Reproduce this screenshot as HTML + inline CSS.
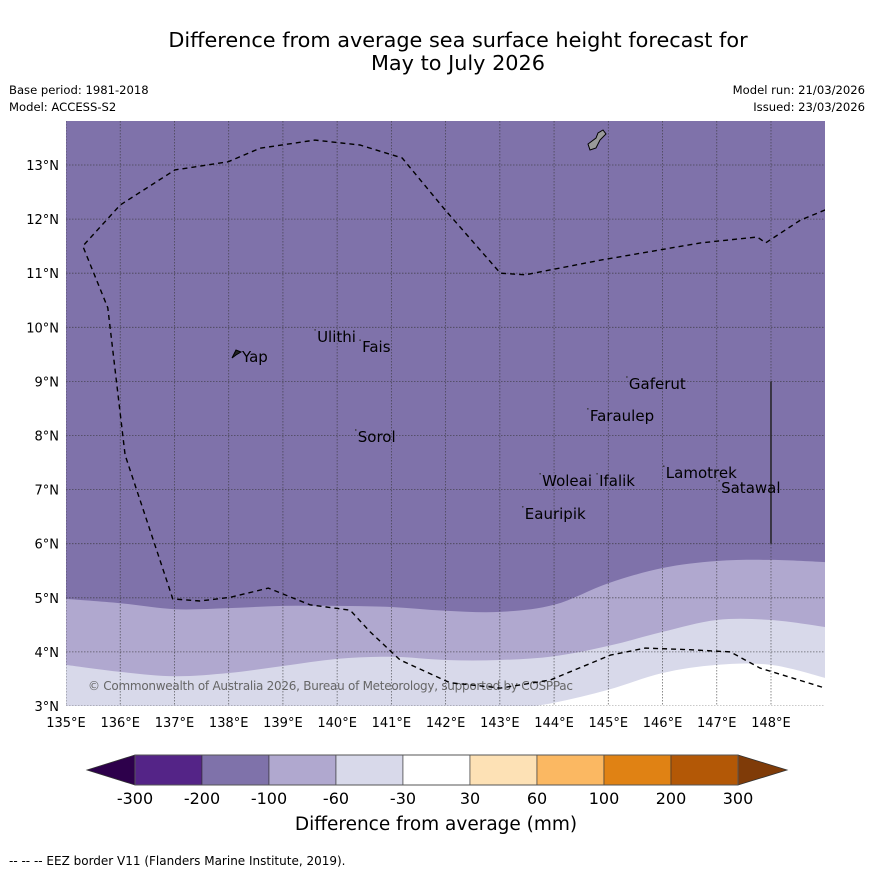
<!DOCTYPE html>
<html><head><meta charset="utf-8"><style>
body{margin:0;background:#fff;font-family:"DejaVu Sans","Liberation Sans",sans-serif;}
</style></head><body>
<svg id="s" width="873" height="873" xmlns="http://www.w3.org/2000/svg" font-family="DejaVu Sans, Liberation Sans, sans-serif">
<rect width="873" height="873" fill="#fff"/>
<text x="458" y="47" text-anchor="middle" font-size="20.8">Difference from average sea surface height forecast for</text>
<text x="458" y="70" text-anchor="middle" font-size="20.8">May to July 2026</text>
<text x="9" y="94" font-size="11.6">Base period: 1981-2018</text>
<text x="9" y="111" font-size="11.6">Model: ACCESS-S2</text>
<text x="865" y="94" font-size="11.6" text-anchor="end">Model run: 21/03/2026</text>
<text x="865" y="111" font-size="11.6" text-anchor="end">Issued: 23/03/2026</text>
<defs><clipPath id="mc"><rect x="66" y="121" width="759" height="585"/></clipPath></defs>
<g id="map" clip-path="url(#mc)"></g>
<g id="over"></g>
<text x="9" y="865" font-size="12">--  --  -- EEZ border V11 (Flanders Marine Institute, 2019).</text>
<text x="436" y="830" text-anchor="middle" font-size="18.5">Difference from average (mm)</text>
</svg>
<script>
const lonTicks=[135,136,137,138,139,140,141,142,143,144,145,146,147,148];
const latTicks=[3,4,5,6,7,8,9,10,11,12,13];
const bLons=[135,136,137,138,139,140,141,142,143,144,145,146,147,148,149];
const b200=[4.98,4.90,4.79,4.81,4.85,4.85,4.83,4.76,4.74,4.87,5.27,5.55,5.68,5.70,5.66];
const b100=[3.76,3.63,3.55,3.61,3.74,3.87,3.91,3.85,3.85,3.92,4.11,4.37,4.59,4.59,4.46];
const b60Lons=[143,144,145,146,147,148,149];
const b60=[2.9,3.06,3.30,3.61,3.76,3.76,3.52];
const eezLon=[149.00,148.54,147.90,147.75,146.70,144.85,143.47,143.01,141.99,141.20,140.42,139.59,138.58,137.99,137.01,136.00,135.31,135.77,136.09,136.97,137.47,138.03,138.73,139.50,140.24,140.61,141.16,142.08,143.01,143.93,145.04,145.68,146.51,147.25,147.80,149.00];
const eezLat=[12.17,11.98,11.56,11.67,11.56,11.24,10.97,11.00,12.17,13.13,13.37,13.46,13.31,13.06,12.91,12.26,11.50,10.36,7.64,4.98,4.94,5.01,5.18,4.87,4.77,4.37,3.85,3.43,3.33,3.48,3.94,4.07,4.04,4.00,3.70,3.33];
const islands=[["Ulithi",139.63,9.86],["Fais",140.46,9.67],["Sorol",140.38,8.01],["Gaferut",145.38,8.99],["Faraulep",144.66,8.40],["Woleai",143.78,7.20],["Ifalik",144.83,7.20],["Lamotrek",146.06,7.34],["Satawal",147.08,7.07],["Eauripik",143.46,6.59]];
const cbLabels=["-300","-200","-100","-60","-30","30","60","100","200","300"];
const cbColors=["#542487","#7f72aa","#b0a8cf","#d8d9ea","#ffffff","#fde1b5","#fbb862","#e08214","#b35806"];
const X=l=>66+(l-135)*54.23, Y=a=>706-(a-3)*54.1;
const NS="http://www.w3.org/2000/svg";
function mk(t,a,p){const e=document.createElementNS(NS,t);for(const k in a)e.setAttribute(k,a[k]);(p||document.getElementById('s')).appendChild(e);return e;}
const map=document.getElementById('map'),over=document.getElementById('over');
function line(lons,lats){let d="";lons.forEach((l,i)=>{d+=(i?"L":"")+X(l).toFixed(1)+","+Y(lats[i]).toFixed(1);});return d;}
function smooth(lons,lats){const p=lons.map((l,i)=>[X(l),Y(lats[i])]);let d=p[0][0].toFixed(1)+","+p[0][1].toFixed(1);
for(let i=0;i<p.length-1;i++){const p0=p[i-1]||p[i],p1=p[i],p2=p[i+1],p3=p[i+2]||p2;
const c1=[p1[0]+(p2[0]-p0[0])/6,p1[1]+(p2[1]-p0[1])/6],c2=[p2[0]-(p3[0]-p1[0])/6,p2[1]-(p3[1]-p1[1])/6];
d+="C"+c1.map(v=>v.toFixed(1))+" "+c2.map(v=>v.toFixed(1))+" "+p2.map(v=>v.toFixed(1));}return d;}
let r=mk('rect',{x:66,y:121,width:759,height:585,fill:'#7f72aa'},map);

let p1=mk('path',{d:"M"+smooth(bLons,b200)+"L830,710L60,710Z",fill:'#b0a8cf'},map);

let p2=mk('path',{d:"M"+smooth(bLons,b100)+"L830,710L60,710Z",fill:'#d8d9ea'},map);

let p3=mk('path',{d:"M"+smooth(b60Lons,b60)+"L830,710Z",fill:'#ffffff'},map);

lonTicks.forEach(l=>{let g=mk('line',{x1:X(l),x2:X(l),y1:121,y2:706,stroke:'#333','stroke-width':0.8,'stroke-dasharray':'1.5,1.5',opacity:0.7},map);

let t=mk('text',{x:X(l),y:727,'text-anchor':'middle','font-size':13});t.textContent=l+"°E";
});
latTicks.forEach(a=>{let g=mk('line',{x1:66,x2:825,y1:Y(a),y2:Y(a),stroke:'#333','stroke-width':0.8,'stroke-dasharray':'1.5,1.5',opacity:0.7},map);

let t=mk('text',{x:59,y:Y(a)+5,'text-anchor':'end','font-size':13});t.textContent=a+"°N";
});
let cp=mk('text',{x:88,y:690,'font-size':12,fill:'#666',textLength:485},map);cp.textContent="© Commonwealth of Australia 2026, Bureau of Meteorology, supported by COSPPac";

let ez=mk('path',{d:"M"+line(eezLon,eezLat),fill:'none',stroke:'#000','stroke-width':1.4,'stroke-dasharray':'5,4'},map);

let vl=mk('line',{x1:X(148),x2:X(148),y1:Y(9),y2:Y(6),stroke:'#222','stroke-width':1.5},map);

let gu=mk('path',{d:"M590,150L588,144L596,138L598,133L603,130L606,134L600,140L596,148Z",fill:'#999',stroke:'#000','stroke-width':1},map);

let yp=mk('path',{d:"M232,358L236,350L241,352L236,355Z",fill:'#222',stroke:'#000','stroke-width':1},map);

let yt=mk('text',{x:242,y:362,'font-size':15},map);yt.textContent="Yap";

islands.forEach(d=>{let dot=mk('circle',{cx:X(d[1])-2,cy:Y(d[2])-5,r:0.8,fill:'#333'},map);

let t=mk('text',{x:X(d[1]),y:Y(d[2])+7,'font-size':15},map);t.textContent=d[0];
});
const cx0=135,cw=67,cy=755,ch=30;
let la=mk('path',{d:`M${cx0},${cy}L87,${cy+ch/2}L${cx0},${cy+ch}Z`,fill:'#2d004b',stroke:'#333','stroke-width':0.8},over);

let ra=mk('path',{d:`M${cx0+9*cw},${cy}L787,${cy+ch/2}L${cx0+9*cw},${cy+ch}Z`,fill:'#7f3b08',stroke:'#333','stroke-width':0.8},over);

cbColors.forEach((c,i)=>{let b=mk('rect',{x:cx0+i*cw,y:cy,width:cw,height:ch,fill:c,stroke:'#333','stroke-width':0.6},over);
});
let cbo=mk('rect',{x:cx0,y:cy,width:9*cw,height:ch,fill:'none',stroke:'#555','stroke-width':1},over);

cbLabels.forEach((l,i)=>{let t=mk('text',{x:cx0+i*cw,y:804,'text-anchor':'middle','font-size':16},over);t.textContent=l;
});
</script>
</body></html>
